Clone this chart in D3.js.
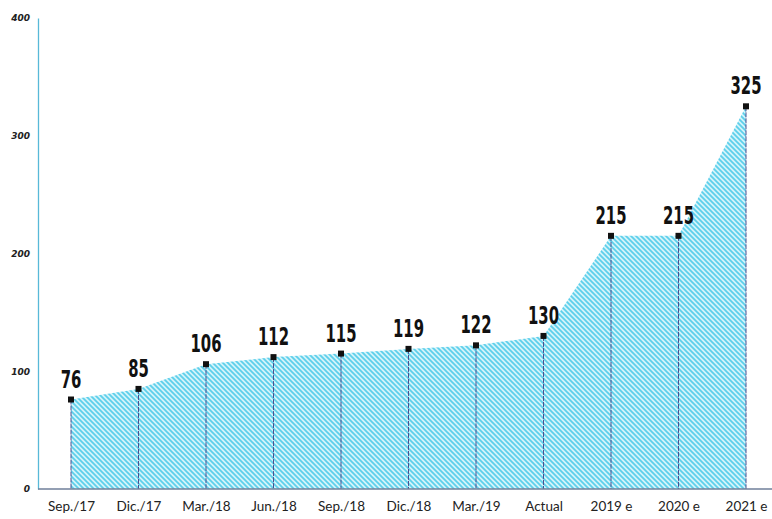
<!DOCTYPE html>
<html><head><meta charset="utf-8">
<script src="https://cdn.jsdelivr.net/npm/d3@7"></script>
<style>body{margin:0;background:#fff}svg{display:block}</style>
</head><body>
<svg id="c" width="772" height="519"></svg>
<script>
const categories = ["Sep./17","Dic./17","Mar./18","Jun./18","Sep./18","Dic./18","Mar./19","Actual","2019 e","2020 e","2021 e"];
const values = [76,85,106,112,115,119,122,130,215,215,325];
const yTicks = [0,100,200,300,400];

const svg = d3.select("#c");
const x = d3.scalePoint().domain(categories).range([71,746]);
const y = d3.scaleLinear().domain([0,400]).range([489,18]);
const data = categories.map((c,i)=>({c, v: values[i]}));

const defs = svg.append("defs");
const pat = defs.append("pattern").attr("id","hatch").attr("patternUnits","userSpaceOnUse")
  .attr("width",5).attr("height",5);
pat.append("rect").attr("width",5).attr("height",5).attr("fill","#d3f4fb");
pat.append("path").attr("d","M-1,-1L6,6M-1,4L1,6M4,-1L6,1")
  .attr("stroke","#5ccfeb").attr("stroke-width",1.7);

// area
svg.append("path").datum(data)
  .attr("fill","url(#hatch)")
  .attr("d", d3.area().x(d=>x(d.c)).y0(y(0)).y1(d=>y(d.v)));

// vertical drop lines
svg.selectAll("line.drop").data(data).join("line").attr("class","drop")
  .attr("x1",d=>x(d.c)).attr("x2",d=>x(d.c))
  .attr("y1",d=>y(d.v)).attr("y2",y(0))
  .attr("stroke","#4a4f8f").attr("stroke-width",1).attr("stroke-dasharray","5,1");

// axes
const yAxis = d3.axisLeft(y).tickValues(yTicks).tickSize(0).tickPadding(8);
const gy = svg.append("g").attr("transform","translate(38,0)").call(yAxis);
gy.select(".domain").attr("stroke","#58b9d8").attr("stroke-width",1.3);
gy.selectAll("text").attr("font-family","DejaVu Sans, sans-serif").attr("font-style","italic")
  .attr("font-weight","bold").attr("font-size",9).attr("fill","#222");

const xAxis = d3.axisBottom(x).tickSize(0).tickPadding(12);
const gx = svg.append("g").attr("transform",`translate(0,${y(0)})`).call(xAxis);
gx.select(".domain").attr("d","M38,0H772").attr("stroke","#6f7f9a").attr("stroke-width",1.5);
gx.selectAll("text").attr("font-family","Lato, 'Noto Sans', sans-serif")
  .attr("font-size",13.5).attr("fill","#222");

// markers
svg.selectAll("rect.m").data(data).join("rect").attr("class","m")
  .attr("x",d=>x(d.c)-3).attr("y",d=>y(d.v)-3).attr("width",6).attr("height",6).attr("fill","#111");

// value labels (condensed by horizontal scaling)
svg.selectAll("text.v").data(data).join("text").attr("class","v")
  .attr("transform",d=>`translate(${x(d.c)},${y(d.v)-12}) scale(0.62,1)`)
  .attr("text-anchor","middle")
  .attr("font-family","'DejaVu Sans',sans-serif")
  .attr("font-weight","bold").attr("font-size",24).attr("fill","#111")
  .text(d=>d.v);
</script>
</body></html>
